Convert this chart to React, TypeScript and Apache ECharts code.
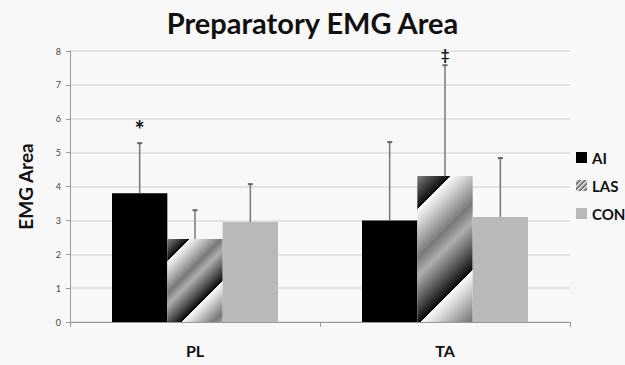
import React, { useEffect, useRef } from "react";
import * as echarts from "echarts";

const categories = ["PL", "TA"];
const seriesNames = ["AI", "LAS", "CON"];
const aiValues = [3.8, 3.0];
const aiErrTop = [5.28, 5.31];
const lasValues = [2.45, 4.31];
const lasErrTop = [3.3, 7.58];
const conValues = [2.95, 3.1];
const conErrTop = [4.07, 4.84];
const aiMarks = ["*", ""];
const lasMarks = ["", "‡"];
const conMarks = ["", ""];
const yTicks = [0, 1, 2, 3, 4, 5, 6, 7, 8];

const FONT = "Lato, 'Open Sans', sans-serif";
const CAT_GAP = 0.336;

// brightness profile of one stripe period (t from 0 to 1)
const PROFILE: [number, number][] = [
  [0, 250],
  [0.12, 215],
  [0.42, 120],
  [0.58, 175],
  [0.85, 70],
  [1, 5],
];

function profile(t: number) {
  for (let i = 1; i < PROFILE.length; i++) {
    const [t1, v1] = PROFILE[i];
    const [t0, v0] = PROFILE[i - 1];
    if (t <= t1) return v0 + ((v1 - v0) * (t - t0)) / (t1 - t0);
  }
  return PROFILE[PROFILE.length - 1][1];
}

function makeStripeCanvas(period: number, off: number, useProfile: boolean, light = 240, dark = 40) {
  const c = document.createElement("canvas");
  c.width = period;
  c.height = period;
  const ctx = c.getContext("2d")!;
  const img = ctx.createImageData(period, period);
  for (let y = 0; y < period; y++) {
    for (let x = 0; x < period; x++) {
      const t = ((((x + y - off) % period) + period) % period) / period;
      const v = Math.round(useProfile ? profile(t) : light - (light - dark) * t);
      const i = (y * period + x) * 4;
      img.data[i] = v;
      img.data[i + 1] = v;
      img.data[i + 2] = v;
      img.data[i + 3] = 255;
    }
  }
  ctx.putImageData(img, 0, 0);
  return c;
}

export default function App() {
  const ref = useRef<HTMLDivElement>(null);
  useEffect(() => {
    if (!ref.current) return;
    const chart = echarts.init(ref.current, null, { renderer: "svg" });
    const pat = (period: number, off: number) => ({
      image: makeStripeCanvas(period, off, true),
      repeat: "repeat",
      imageWidth: period,
      imageHeight: period,
    });
    const lasPatterns = [pat(75, 53), pat(116, 46)];
    const small = makeStripeCanvas(5, 0, false, 235, 60);

    const errData: any[] = [];
    const groups = [
      [aiValues, aiErrTop, aiMarks],
      [lasValues, lasErrTop, lasMarks],
      [conValues, conErrTop, conMarks],
    ] as const;
    groups.forEach((g, k) => {
      categories.forEach((_, i) => {
        errData.push([i, g[0][i], g[1][i], k, g[2][i]]);
      });
    });

    const option: any = {
      animation: false,
      backgroundColor: "#f8f8f8",
      title: {
        text: "Preparatory EMG Area",
        left: "center",
        top: 3,
        textStyle: { fontFamily: FONT, fontWeight: "bold", fontSize: 29, color: "#111" },
      },
      legend: {
        orient: "vertical",
        left: 576,
        top: 150,
        padding: 0,
        itemWidth: 11,
        itemHeight: 11,
        itemGap: 13,
        icon: "rect",
        textStyle: { fontFamily: FONT, fontWeight: "bold", fontSize: 15, color: "#111" },
        data: [
          { name: seriesNames[0] },
          { name: seriesNames[1], itemStyle: { color: { image: small, repeat: "repeat", imageWidth: 5, imageHeight: 5 } } },
          { name: seriesNames[2] },
        ],
      },
      grid: { left: 70, right: 55, top: 51, bottom: 43 },
      xAxis: {
        type: "category",
        data: categories,
        axisLine: { lineStyle: { color: "#999", width: 1 } },
        axisTick: { show: true, length: 5, lineStyle: { color: "#999" } },
        axisLabel: { fontFamily: FONT, fontWeight: "bold", fontSize: 16, color: "#111", margin: 20 },
      },
      yAxis: {
        type: "value",
        min: 0,
        max: 8,
        interval: 1,
        name: "EMG Area",
        nameLocation: "middle",
        nameGap: 35,
        nameTextStyle: { fontFamily: FONT, fontWeight: "bold", fontSize: 19, color: "#111" },
        axisLine: { show: true, lineStyle: { color: "#999", width: 1 } },
        axisTick: { show: true, length: 4, lineStyle: { color: "#999" } },
        axisLabel: {
          fontFamily: FONT,
          fontSize: 9,
          color: "#444",
          margin: 9,
          formatter: (v: number) => (yTicks.includes(v) ? String(v) : ""),
        },
        splitLine: { lineStyle: { color: "#dcdcdc", width: 1.5 } },
      },
      series: [
        {
          name: seriesNames[0],
          type: "bar",
          data: aiValues,
          barGap: "0%",
          barCategoryGap: CAT_GAP * 100 + "%",
          itemStyle: { color: "#000" },
        },
        {
          name: seriesNames[1],
          type: "bar",
          data: lasValues.map((v, i) => ({ value: v, itemStyle: { color: lasPatterns[i] } })),
          barGap: "0%",
          barCategoryGap: CAT_GAP * 100 + "%",
          itemStyle: { color: "#888" },
        },
        {
          name: seriesNames[2],
          type: "bar",
          data: conValues,
          barGap: "0%",
          barCategoryGap: CAT_GAP * 100 + "%",
          itemStyle: { color: "#b9b9b9" },
        },
        {
          type: "custom",
          z: 10,
          silent: true,
          data: errData,
          encode: { x: 0, y: 2 },
          renderItem: (params: any, api: any) => {
            const ci = api.value(0);
            const v = api.value(1);
            const up = api.value(2);
            const k = api.value(3);
            const mark = errData[params.dataIndex][4];
            const band = api.size([1, 0])[0];
            const bw = (band * (1 - CAT_GAP)) / 3;
            const base = api.coord([ci, v]);
            const top = api.coord([ci, up]);
            const x = base[0] + (k - 1) * bw;
            const children: any[] = [
              {
                type: "line",
                shape: { x1: x, y1: base[1], x2: x, y2: top[1] },
                style: { stroke: "#777", lineWidth: 1.5 },
              },
              {
                type: "line",
                shape: { x1: x - 2.5, y1: top[1], x2: x + 2.5, y2: top[1] },
                style: { stroke: "#666", lineWidth: 2 },
              },
            ];
            if (mark) {
              children.push({
                type: "text",
                style: {
                  text: mark,
                  x: x,
                  y: top[1] - (mark === "*" ? 2 : 4),
                  align: "center",
                  verticalAlign: "bottom",
                  font: (mark === "*" ? "bold 24px " : "bold 15px ") + FONT,
                  fill: "#111",
                },
              });
            }
            return { type: "group", children };
          },
        },
      ],
    };
    chart.setOption(option);
    return () => chart.dispose();
  }, []);
  return (
    <div
      ref={ref}
      style={{ position: "fixed", left: 0, top: 0, width: 625, height: 365 }}
    />
  );
}
